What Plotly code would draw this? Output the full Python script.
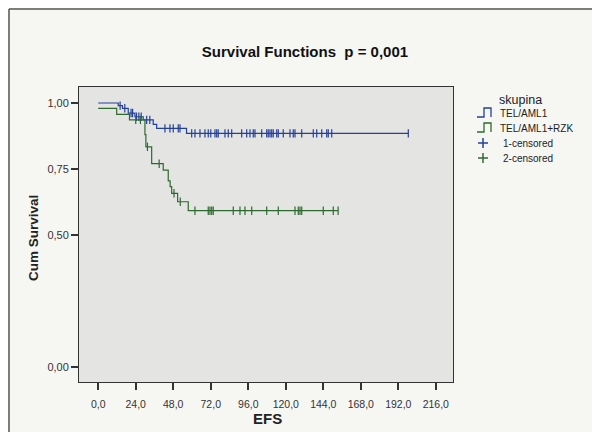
import numpy as np
import plotly.graph_objects as go

# ---------------- data ----------------
x_ticks = [0, 24, 48, 72, 96, 120, 144, 168, 192, 216]
x_tick_labels = ["0,0", "24,0", "48,0", "72,0", "96,0", "120,0", "144,0", "168,0", "192,0", "216,0"]
y_ticks = [0.0, 0.5, 0.75, 1.0]
y_tick_labels = ["0,00", "0,50", "0,75", "1,00"]

# group 1: TEL/AML1 (event times and survival after each event)
g1_start = 1.0
g1_event_t = [12.8, 15.5, 19.2, 23.5, 28.8, 35.2, 37.4, 56.5]
g1_event_s = [0.990, 0.980, 0.962, 0.948, 0.936, 0.919, 0.904, 0.885]
g1_censor_t = [14.0, 17.0, 21.0, 22.0, 24.5, 26.0, 27.5, 31.0, 33.0,
               42.7, 45.9, 48.0, 51.2, 52.3,
               59.8, 61.9, 65.1, 68.3, 70.4, 72.0, 74.7, 75.8, 76.8, 81.1, 83.2,
               85.4, 91.8, 95.0, 97.1, 99.2, 100.3, 104.6, 107.8, 108.8, 109.9,
               111.0, 112.0, 114.2, 115.2, 118.4, 122.7, 124.8, 125.9, 130.2,
               137.6, 139.8, 143.0, 146.2, 147.2, 149.4, 198.4]

# group 2: TEL/AML1+RZK
g2_start = 0.98
g2_event_t = [11.8, 20.0, 29.9, 30.5, 34.2, 41.6, 44.8, 46.0, 47.0, 50.8, 57.6]
g2_event_s = [0.957, 0.936, 0.880, 0.834, 0.770, 0.746, 0.705, 0.683, 0.658, 0.626, 0.592]
g2_censor_t = [24.0, 27.0, 31.5, 39.0, 48.5, 52.5,
               61.9, 70.4, 71.5, 72.6, 73.6, 86.4, 90.7, 93.9, 98.2, 107.8,
               115.2, 125.9, 128.0, 129.1, 130.2, 144.0, 150.4, 153.5]

group_names = ["TEL/AML1", "TEL/AML1+RZK"]
censor_names = ["1-censored", "2-censored"]

BLUE = "#24409a"
GREEN = "#2e6a30"

# ---------------- layout geometry (screen pixels) ----------------
OFF = 8                      # default page body margin
SW, SH = 600, 432            # window
W, H = SW - OFF, SH - OFF    # figure size
L, R, T, B = 79, 453, 87, 382   # plot area box in screen pixels


def px_to_paper(px, py):
    return (px - L) / (R - L), (B - py) / (B - T)


def step_value(t, start, ev_t, ev_s):
    ev_t = np.asarray(ev_t)
    ev_s = np.asarray(ev_s)
    i = np.searchsorted(ev_t, t, side="right")
    return np.where(i == 0, start, ev_s[np.maximum(i - 1, 0)])


fig = go.Figure()

for start, ev_t, ev_s, cens, col in [
    (g1_start, g1_event_t, g1_event_s, g1_censor_t, BLUE),
    (g2_start, g2_event_t, g2_event_s, g2_censor_t, GREEN),
]:
    last_t = max(max(ev_t), max(cens))
    xs = [0.0] + list(ev_t) + [last_t]
    ys = [start] + list(ev_s) + [ev_s[-1]]
    fig.add_trace(go.Scatter(x=xs, y=ys, mode="lines", line=dict(color=col, width=1.2, shape="hv"),
                             showlegend=False, hoverinfo="skip"))
    cy = step_value(np.array(cens), start, ev_t, ev_s)
    fig.add_trace(go.Scatter(x=cens, y=cy, mode="markers",
                             marker=dict(symbol="line-ns", size=6, line=dict(color=col, width=1.2)),
                             showlegend=False, hoverinfo="skip"))

font_family = "Liberation Sans, Arial, sans-serif"

annotations = []
shapes = []

# axis titles
ax, ay = px_to_paper(267, 418)
annotations.append(dict(text="<b>EFS</b>", x=ax, y=ay, xref="paper", yref="paper", showarrow=False,
                        font=dict(size=15, color="#222", family=font_family), xanchor="center", yanchor="middle"))
ax, ay = px_to_paper(34, 238)
annotations.append(dict(text="<b>Cum Survival</b>", x=ax, y=ay, xref="paper", yref="paper", showarrow=False,
                        textangle=-90, font=dict(size=13.5, color="#222", family=font_family),
                        xanchor="center", yanchor="middle"))

# legend (manual)
ax, ay = px_to_paper(520, 100)
annotations.append(dict(text="skupina", x=ax, y=ay, xref="paper", yref="paper", showarrow=False,
                        font=dict(size=12.5, color="#222", family=font_family), xanchor="center", yanchor="middle"))
leg_rows = [(113, group_names[0], BLUE, "step"), (128, group_names[1], GREEN, "step"),
            (143, censor_names[0], BLUE, "plus"), (158, censor_names[1], GREEN, "plus")]
for yy, label, col, kind in leg_rows:
    tx = 498 if kind == "step" else 501
    ax, ay = px_to_paper(tx, yy)
    annotations.append(dict(text=label, x=ax, y=ay, xref="paper", yref="paper", showarrow=False,
                            font=dict(size=10, color="#222", family=font_family), xanchor="left", yanchor="middle"))
    if kind == "step":
        pts = [(477, yy + 4), (484, yy + 4), (484, yy - 5), (491, yy - 5), (491, yy + 4)]
        path = ""
        for k, (px, py) in enumerate(pts):
            fx, fy = px_to_paper(px, py)
            path += ("M" if k == 0 else "L") + f"{fx:.5f},{fy:.5f} "
        shapes.append(dict(type="path", path=path, xref="paper", yref="paper",
                           line=dict(color=col, width=1.3)))
    else:
        for (x0, y0, x1, y1) in [(478, yy, 488, yy), (483, yy - 5, 483, yy + 5)]:
            fx0, fy0 = px_to_paper(x0, y0)
            fx1, fy1 = px_to_paper(x1, y1)
            shapes.append(dict(type="line", x0=fx0, y0=fy0, x1=fx1, y1=fy1, xref="paper", yref="paper",
                               line=dict(color=col, width=1.5)))

# outer frame (left and top edges)
for (x0, y0, x1, y1) in [(9, 9, 9, 432), (9, 9, 600, 9)]:
    fx0, fy0 = px_to_paper(x0, y0)
    fx1, fy1 = px_to_paper(x1, y1)
    shapes.append(dict(type="line", x0=fx0, y0=fy0, x1=fx1, y1=fy1, xref="paper", yref="paper",
                       line=dict(color="#555", width=1.5)))

tx, _ = px_to_paper(305, 52)
fig.update_layout(
    width=W, height=H,
    margin=dict(l=L - OFF, r=SW - R, t=T - OFF, b=SH - B, pad=0),
    paper_bgcolor="#f6f6f3",
    plot_bgcolor="#e4e4e2",
    title=dict(text="<b>Survival Functions  p = 0,001</b>", x=tx, xref="paper", xanchor="center",
               y=1 - (52 - OFF) / H, yref="container", yanchor="middle",
               font=dict(size=15, color="#111", family=font_family)),
    font=dict(family=font_family, color="#333"),
    showlegend=False,
    annotations=annotations,
    shapes=shapes,
)
fig.update_xaxes(range=[-12.3, 227], tickvals=x_ticks, ticktext=x_tick_labels, showgrid=False, zeroline=False,
                 showline=True, linecolor="#333", linewidth=1, mirror=True,
                 ticks="outside", ticklen=7, tickcolor="#333", tickwidth=1.5,
                 ticklabelstandoff=5,
                 tickfont=dict(size=10.5, color="#333"))
fig.update_yaxes(range=[-0.0568, 1.0606], tickvals=y_ticks, ticktext=y_tick_labels, showgrid=False, zeroline=False,
                 showline=True, linecolor="#333", linewidth=1, mirror=True,
                 ticks="outside", ticklen=7, tickcolor="#333", tickwidth=1.5,
                 tickfont=dict(size=11, color="#333"))

fig.write_html("out.html")
